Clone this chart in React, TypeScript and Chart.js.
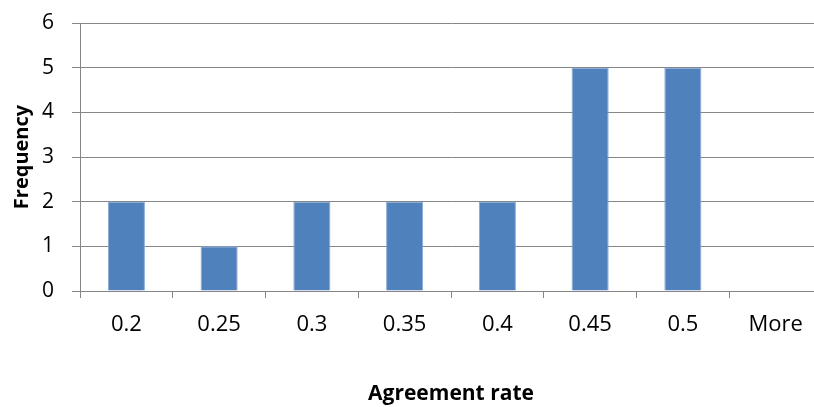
import React, { useEffect, useRef } from "react";
import { Chart, registerables } from "chart.js";

Chart.register(...registerables);

// Histogram bins and their counts
const bins: string[] = ["0.2", "0.25", "0.3", "0.35", "0.4", "0.45", "0.5", "More"];
const frequency: number[] = [2, 1, 2, 2, 2, 5, 5, 0];
const yTicks: number[] = [0, 1, 2, 3, 4, 5, 6];

const FONT = "'Open Sans', sans-serif";
const GRID = "#868686";

export default function App() {
  const ref = useRef<HTMLCanvasElement | null>(null);

  useEffect(() => {
    document.body.style.margin = "0";
    document.body.style.overflow = "hidden";
    const canvas = ref.current;
    if (!canvas) return;
    const chart = new Chart(canvas, {
      type: "bar",
      data: {
        labels: bins,
        datasets: [
          {
            label: "Frequency",
            data: frequency,
            backgroundColor: "#4F81BD",
            borderColor: "#86A8D4",
            borderWidth: 1,
            borderSkipped: "bottom",
            categoryPercentage: 1,
            barPercentage: 0.4,
          },
        ],
      },
      options: {
        responsive: false,
        animation: false,
        devicePixelRatio: 1,
        layout: { padding: { top: 23, left: 0, right: 0, bottom: 0 } },
        plugins: {
          legend: { display: false },
          tooltip: { enabled: false },
        },
        scales: {
          x: {
            grid: {
              offset: true,
              drawOnChartArea: false,
              color: GRID,
              tickLength: 7,
            },
            border: { color: GRID, width: 1 },
            ticks: {
              color: "#000",
              font: { family: FONT, size: 22 },
              padding: 14,
              maxRotation: 0,
            },
            title: {
              display: true,
              text: "Agreement rate",
              color: "#000",
              font: { family: FONT, size: 21, weight: "bold" },
              padding: { top: 32, bottom: 0 },
            },
            afterFit: (scale: any) => {
              scale.height = 116;
            },
          },
          y: {
            min: 0,
            max: 6,
            afterBuildTicks: (scale: any) => {
              scale.ticks = yTicks.map((v) => ({ value: v }));
            },
            grid: { color: GRID, tickLength: 8 },
            border: { color: GRID, width: 1 },
            ticks: {
              color: "#000",
              font: { family: FONT, size: 21 },
              padding: 18,
            },
            title: {
              display: true,
              text: "Frequency",
              color: "#000",
              font: { family: FONT, size: 20, weight: "bold" },
              padding: { top: 10, bottom: 0 },
            },
            afterFit: (scale: any) => {
              scale.width = 80;
              scale.paddingTop = 0;
              scale.paddingBottom = 0;
            },
          },
        },
      },
    });
    return () => chart.destroy();
  }, []);

  return (
    <div style={{ position: "fixed", left: 0, top: 0, width: 814, height: 407, overflow: "hidden", background: "#fff" }}>
      <canvas ref={ref} width={822} height={407} style={{ position: "absolute", left: 0, top: 0 }} />
    </div>
  );
}
